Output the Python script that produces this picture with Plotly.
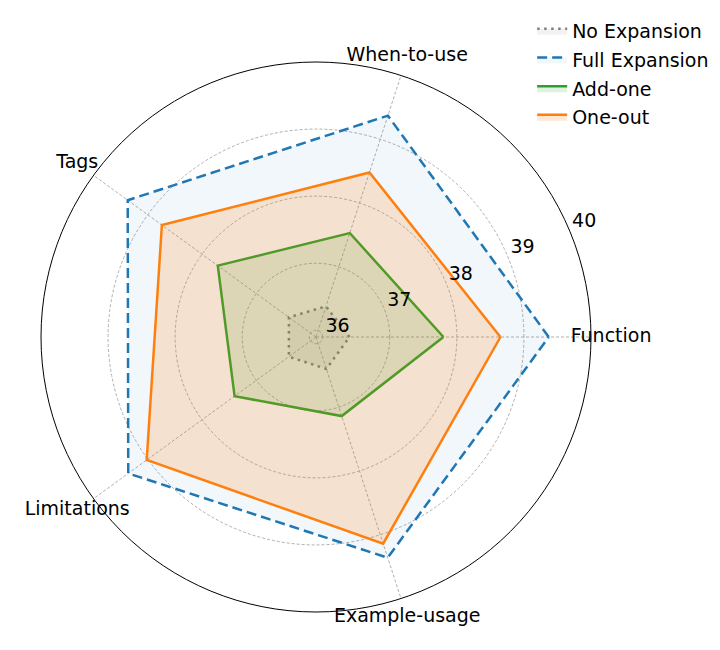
import plotly.graph_objects as go

# Kategori (sumbu sudut) dan nilai tiap konfigurasi
categories = ["Function", "When-to-use", "Tags", "Limitations", "Example-usage"]
no_expansion = [36.40, 36.38, 36.40, 36.40, 36.40]
full_expansion = [39.37, 39.37, 39.37, 39.36, 39.36]
add_one = [37.80, 37.53, 37.71, 37.40, 37.14]
one_out = [38.65, 38.48, 38.74, 39.02, 39.14]
radial_ticks = [36, 37, 38, 39, 40]

# Sudut tiap kategori (derajat, berlawanan arah jarum jam dari kanan)
angles = [i * 360 / len(categories) for i in range(len(categories))]

series = [
    ("No Expansion", no_expansion, "#7f7f7f", "2.5px,4.5px", "rgba(128,128,128,0.10)"),
    ("Full Expansion", full_expansion, "#1f77b4", "10px,5px", "rgba(31,119,180,0.06)"),
    ("Add-one", add_one, "#2ca02c", "solid", "rgba(44,160,44,0.15)"),
    ("One-out", one_out, "#ff7f0e", "solid", "rgba(255,127,14,0.18)"),
]

W, H = 720, 650
r_min, r_max = 35.9, 40.0
r_label_max = 40.45  # rentang polar kedua untuk label di luar lingkaran

# Domain polar utama (pusat & jari-jari dalam piksel)
cx, cy, rad = 308, 321, 275
dom1 = dict(x=[(cx - rad) / W, (cx + rad) / W], y=[(cy - rad) / H, (cy + rad) / H])
rad2 = rad * (r_label_max - r_min) / (r_max - r_min)
dom2 = dict(x=[(cx - rad2) / W, (cx + rad2) / W], y=[(cy - rad2) / H, (cy + rad2) / H])

fig = go.Figure()

for name, values, color, dash, fill in series:
    # Tutup poligon dengan mengulang titik pertama
    fig.add_trace(go.Scatterpolar(
        r=values + values[:1],
        theta=angles + angles[:1],
        mode="lines",
        name=name,
        legendgroup=name,
        line=dict(color=color, width=2.5, dash=dash),
        fill="toself",
        fillcolor=fill,
        hoverinfo="skip",
    ))

# Label kategori di luar lingkaran (rata tengah)
fig.add_trace(go.Scatterpolar(
    r=[40.3] * len(categories),
    theta=angles,
    mode="text",
    text=categories,
    textposition="middle center",
    textfont=dict(size=19, color="black"),
    showlegend=False,
    hoverinfo="skip",
    subplot="polar2",
))

# Label tick radial pada sudut ~22.5 derajat
fig.add_trace(go.Scatterpolar(
    r=[t + 0.25 for t in radial_ticks],
    theta=[23.2] * len(radial_ticks),
    mode="text",
    text=[str(t) for t in radial_ticks],
    textposition="middle center",
    textfont=dict(size=19, color="black"),
    showlegend=False,
    hoverinfo="skip",
    subplot="polar2",
))

fig.update_layout(
    width=W,
    height=H,
    margin=dict(l=0, r=0, t=0, b=0),
    paper_bgcolor="white",
    font=dict(family="DejaVu Sans", size=19, color="black"),
    polar=dict(
        domain=dom1,
        bgcolor="white",
        radialaxis=dict(
            range=[r_min, r_max],
            tickvals=radial_ticks,
            showticklabels=False,
            showline=False,
            ticks="",
            gridcolor="#b0b0b0",
            gridwidth=0.8,
            griddash="3px,2px",
        ),
        angularaxis=dict(
            rotation=0,
            direction="counterclockwise",
            thetaunit="degrees",
            tickvals=angles,
            showticklabels=False,
            showline=True,
            linecolor="black",
            linewidth=1,
            ticks="",
            gridcolor="#b0b0b0",
            gridwidth=0.8,
            griddash="3px,2px",
        ),
    ),
    polar2=dict(
        domain=dom2,
        bgcolor="rgba(0,0,0,0)",
        radialaxis=dict(range=[r_min, r_label_max], visible=False),
        angularaxis=dict(
            rotation=0,
            direction="counterclockwise",
            thetaunit="degrees",
            visible=False,
        ),
    ),
    legend=dict(
        x=0.728,
        y=0.994,
        xanchor="left",
        yanchor="top",
        bgcolor="rgba(0,0,0,0)",
        tracegroupgap=1,
        font=dict(size=19),
    ),
)

fig.write_html("out.html")
